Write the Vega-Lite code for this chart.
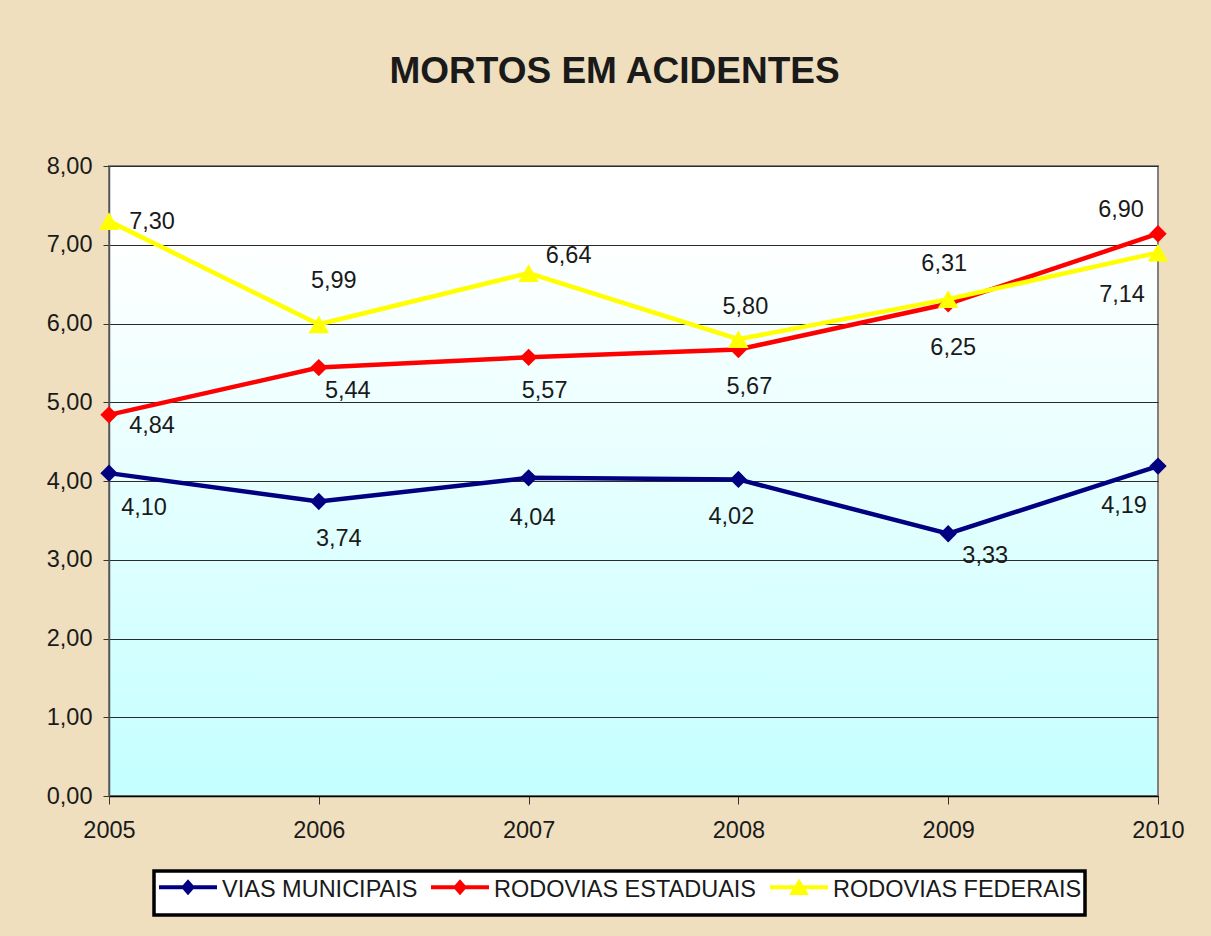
{
  "$schema": "https://vega.github.io/schema/vega-lite/v6.json",
  "autosize": "none",
  "width": 1049,
  "height": 630,
  "padding": {"left": 109, "top": 166, "right": 53, "bottom": 140},
  "background": "#EFDFBF",
  "title": {
    "text": "MORTOS EM ACIDENTES",
    "font": "Liberation Sans",
    "fontSize": 37,
    "fontWeight": "bold",
    "color": "#1a1a1a",
    "anchor": "middle",
    "dx": -19,
    "offset": 63
  },
  "config": {
    "locale": {"number": {"decimal": ",", "thousands": ".", "grouping": [3], "currency": ["R$", ""]}},
    "view": {
      "stroke": "#808080",
      "strokeWidth": 2,
      "fill": {
        "gradient": "linear",
        "x1": 0, "y1": 0, "x2": 0, "y2": 1,
        "stops": [
          {"offset": 0, "color": "#FFFFFF"},
          {"offset": 0.12, "color": "#FFFFFF"},
          {"offset": 1, "color": "#C4FFFF"}
        ]
      }
    },
    "axis": {
      "labelFont": "Liberation Sans",
      "labelFontSize": 23.5,
      "labelColor": "#1a1a1a",
      "title": null
    }
  },
  "data": {
    "values": [
      {"year": 2005, "serie": "VIAS MUNICIPAIS", "value": 4.10},
      {"year": 2006, "serie": "VIAS MUNICIPAIS", "value": 3.74},
      {"year": 2007, "serie": "VIAS MUNICIPAIS", "value": 4.04},
      {"year": 2008, "serie": "VIAS MUNICIPAIS", "value": 4.02},
      {"year": 2009, "serie": "VIAS MUNICIPAIS", "value": 3.33},
      {"year": 2010, "serie": "VIAS MUNICIPAIS", "value": 4.19},
      {"year": 2005, "serie": "RODOVIAS ESTADUAIS", "value": 4.84},
      {"year": 2006, "serie": "RODOVIAS ESTADUAIS", "value": 5.44},
      {"year": 2007, "serie": "RODOVIAS ESTADUAIS", "value": 5.57},
      {"year": 2008, "serie": "RODOVIAS ESTADUAIS", "value": 5.67},
      {"year": 2009, "serie": "RODOVIAS ESTADUAIS", "value": 6.25},
      {"year": 2010, "serie": "RODOVIAS ESTADUAIS", "value": 7.14},
      {"year": 2005, "serie": "RODOVIAS FEDERAIS", "value": 7.30},
      {"year": 2006, "serie": "RODOVIAS FEDERAIS", "value": 5.99},
      {"year": 2007, "serie": "RODOVIAS FEDERAIS", "value": 6.64},
      {"year": 2008, "serie": "RODOVIAS FEDERAIS", "value": 5.80},
      {"year": 2009, "serie": "RODOVIAS FEDERAIS", "value": 6.31},
      {"year": 2010, "serie": "RODOVIAS FEDERAIS", "value": 6.90}
    ]
  },
  "encoding": {
    "x": {
      "field": "year",
      "type": "ordinal",
      "scale": {"type": "point", "padding": 0},
      "axis": {
        "labelAngle": 0,
        "domainColor": "#000000",
        "domainWidth": 1.5,
        "tickColor": "#333333",
        "tickSize": 8,
        "labelPadding": 14,
        "grid": false
      }
    },
    "y": {
      "field": "value",
      "type": "quantitative",
      "scale": {"domain": [0, 8], "nice": false},
      "axis": {
        "values": [0, 1, 2, 3, 4, 5, 6, 7, 8],
        "format": ".2f",
        "grid": true,
        "gridColor": "#2a2a2a",
        "gridWidth": 1,
        "domainColor": "#555555",
        "domainWidth": 1.5,
        "tickColor": "#333333",
        "tickSize": 6,
        "labelPadding": 11
      }
    }
  },
  "layer": [
    {
      "mark": {"type": "line", "strokeWidth": 4.5},
      "encoding": {
        "color": {
          "field": "serie",
          "type": "nominal",
          "scale": {
            "domain": ["VIAS MUNICIPAIS", "RODOVIAS ESTADUAIS", "RODOVIAS FEDERAIS"],
            "range": ["#000080", "#FF0000", "#FFFF00"]
          },
          "legend": {
            "orient": "none",
            "legendX": 45,
            "legendY": 705,
            "direction": "horizontal",
            "title": null,
            "symbolSize": 3364,
            "symbolStrokeWidth": 4,
            "labelFont": "Liberation Sans",
            "labelFontSize": 23.5,
            "labelColor": "#1a1a1a",
            "labelOffset": 3,
            "labelLimit": 500,
            "columnPadding": 11,
            "padding": 3,
            "fillColor": "#FFFFFF",
            "strokeColor": "#000000",
            "clipHeight": 38,
            "encode": {
              "legend": {"update": {"strokeWidth": {"value": 3.5}}},
              "symbols": {
                "update": {
                  "shape": {"signal": "datum.value === 'RODOVIAS FEDERAIS' ? 'M-1,0H1M-0.22,0.2L0,-0.17L0.22,0.2Z' : 'M-1,0H1M-0.15,0L0,-0.17L0.15,0L0,0.17Z'"},
                  "stroke": {"scale": "color", "field": "value"},
                  "fill": {"scale": "color", "field": "value"},
                  "strokeWidth": {"value": 4},
                  "opacity": {"value": 1},
                  "y": {"value": 13.3}
                }
              },
              "labels": {"update": {"y": {"value": 15.6}}}
            }
          }
        }
      }
    },
    {
      "transform": [{"filter": "datum.serie !== 'RODOVIAS FEDERAIS'"}],
      "mark": {"type": "point", "shape": "diamond", "filled": true, "size": 300, "opacity": 1},
      "encoding": {"color": {"field": "serie", "type": "nominal"}}
    },
    {
      "transform": [{"filter": "datum.serie === 'RODOVIAS FEDERAIS'"}],
      "mark": {"type": "point", "shape": "triangle-up", "filled": true, "size": 420, "opacity": 1},
      "encoding": {"color": {"field": "serie", "type": "nominal"}}
    },
    {
      "transform": [{"filter": "datum.serie === 'VIAS MUNICIPAIS'"}],
      "mark": {
        "type": "text",
        "font": "Liberation Sans",
        "fontSize": 23.5,
        "color": "#1a1a1a",
        "align": "center",
        "baseline": "middle",
        "dx": {"expr": "[35,20,4,-7,37,-34][datum.year-2005]"},
        "dy": {"expr": "[35,38,40,38,22,40][datum.year-2005]"}
      },
      "encoding": {"text": {"field": "value", "type": "quantitative", "format": ".2f"}}
    },
    {
      "transform": [{"filter": "datum.serie === 'RODOVIAS ESTADUAIS'"}],
      "mark": {
        "type": "text",
        "font": "Liberation Sans",
        "fontSize": 23.5,
        "color": "#1a1a1a",
        "align": "center",
        "baseline": "middle",
        "dx": {"expr": "[43,29,16,11,5,-36][datum.year-2005]"},
        "dy": {"expr": "[11,23,34,38,44,61][datum.year-2005]"}
      },
      "encoding": {"text": {"field": "value", "type": "quantitative", "format": ".2f"}}
    },
    {
      "transform": [{"filter": "datum.serie === 'RODOVIAS FEDERAIS'"}],
      "mark": {
        "type": "text",
        "font": "Liberation Sans",
        "fontSize": 23.5,
        "color": "#1a1a1a",
        "align": "center",
        "baseline": "middle",
        "dx": {"expr": "[43,15,40,7,-4,-37][datum.year-2005]"},
        "dy": {"expr": "[1,-43,-17,-32,-35,-43][datum.year-2005]"}
      },
      "encoding": {"text": {"field": "value", "type": "quantitative", "format": ".2f"}}
    }
  ]
}
